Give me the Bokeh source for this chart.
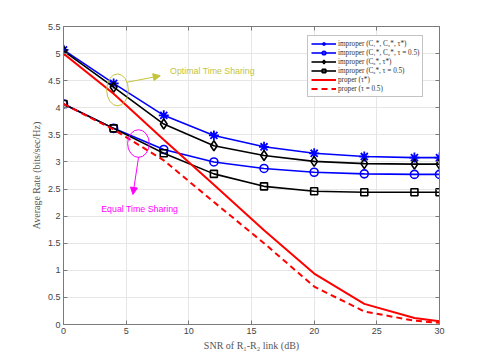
from bokeh.plotting import figure
from bokeh.models import (Range1d, FixedTicker, NumeralTickFormatter, LinearAxis,
                          Arrow, NormalHead, Legend, CustomJSTickFormatter)
from bokeh.core.properties import value
from bokeh.embed import file_html
from bokeh.resources import INLINE

# ---- data ----
snr = [0, 4, 8, 12, 16, 20, 24, 28, 30]
imp_c1c2_opt = [5.07, 4.45, 3.86, 3.49, 3.28, 3.16, 3.10, 3.08, 3.08]
imp_c1c2_half = [4.07, 3.62, 3.23, 3.00, 2.88, 2.81, 2.78, 2.77, 2.77]
imp_cx_opt = [5.05, 4.38, 3.70, 3.30, 3.12, 3.01, 2.97, 2.96, 2.96]
imp_cx_half = [4.07, 3.62, 3.16, 2.78, 2.55, 2.46, 2.44, 2.44, 2.44]
proper_opt = [5.00, 4.26, 3.41, 2.58, 1.74, 0.94, 0.38, 0.12, 0.06]
proper_half = [4.07, 3.60, 3.03, 2.26, 1.50, 0.70, 0.24, 0.07, 0.03]

x_ticks = [0, 5, 10, 15, 20, 25, 30]
y_ticks = [0, 0.5, 1, 1.5, 2, 2.5, 3, 3.5, 4, 4.5, 5, 5.5]

labels = ["improper (C\u2081*, C\u2082*, \u03c4*)",
          "improper (C\u2081*, C\u2082*, \u03c4 = 0.5)",
          "improper (C\u2093*, \u03c4*)",
          "improper (C\u2093*, \u03c4 = 0.5)",
          "proper (\u03c4*)",
          "proper (\u03c4 = 0.5)"]

AX = "#7a7a7a"
p = figure(frame_width=376, frame_height=298, output_backend="svg", toolbar_location=None,
           x_range=Range1d(0, 30), y_range=Range1d(0, 5.5),
           min_border_left=63, min_border_top=26, min_border_right=38, min_border_bottom=31,
           background_fill_color="white", border_fill_color="white")
p.outline_line_color = AX
p.outline_line_width = 1

for ax in (p.xaxis[0], p.yaxis[0]):
    ax.axis_line_color = AX
    ax.major_tick_line_color = AX
    ax.minor_tick_line_color = None
    ax.major_tick_in = 4
    ax.major_tick_out = 0
    ax.major_label_text_font = "Liberation Sans"
    ax.major_label_text_font_size = "9px"
    ax.major_label_text_color = "#444444"
    ax.axis_label_text_font = "Liberation Serif"
    ax.axis_label_text_font_style = "normal"
    ax.axis_label_text_font_size = "10px"
    ax.axis_label_text_color = "#555555"

p.xaxis[0].ticker = FixedTicker(ticks=x_ticks)
p.yaxis[0].ticker = FixedTicker(ticks=y_ticks)
p.yaxis[0].formatter = NumeralTickFormatter(format="0.[0]")
p.xaxis[0].formatter = NumeralTickFormatter(format="0")
p.xaxis[0].major_label_standoff = 3
p.yaxis[0].major_label_standoff = 3
p.xaxis[0].axis_label = "SNR of R\u2081-R\u2082 link (dB)"
p.yaxis[0].axis_label = "Average Rate (bits/sec/Hz)"
p.xaxis[0].axis_label_standoff = 3
p.yaxis[0].axis_label_standoff = 3

# box axes (right and top) with inward ticks, no labels
blank = CustomJSTickFormatter(code="return ''")
ra = LinearAxis(ticker=FixedTicker(ticks=y_ticks), formatter=blank,
                axis_line_color=AX, major_tick_line_color=AX, minor_tick_line_color=None,
                major_tick_in=4, major_tick_out=0)
ta = LinearAxis(ticker=FixedTicker(ticks=x_ticks), formatter=blank,
                axis_line_color=AX, major_tick_line_color=AX, minor_tick_line_color=None,
                major_tick_in=4, major_tick_out=0)
p.add_layout(ra, "right")
p.add_layout(ta, "above")

p.xgrid.ticker = FixedTicker(ticks=x_ticks)
p.ygrid.ticker = FixedTicker(ticks=y_ticks)
p.grid.grid_line_color = "#e6e6e6"
p.grid.grid_line_width = 1

items = []
r1 = p.line(snr, imp_c1c2_opt, line_color="blue", line_width=1.6)
m1 = p.scatter(snr, imp_c1c2_opt, marker="asterisk", size=10, line_color="blue", line_width=1.8)
items.append((labels[0], [r1, m1]))
r2 = p.line(snr, imp_c1c2_half, line_color="blue", line_width=1.6)
m2 = p.scatter(snr, imp_c1c2_half, marker="circle", size=8, line_color="blue", fill_color=None, line_width=1.6)
items.append((labels[1], [r2, m2]))
r3 = p.line(snr, imp_cx_opt, line_color="black", line_width=1.6)
m3 = p.scatter(snr, imp_cx_opt, marker="diamond", size=10, line_color="black", fill_color=None, line_width=1.6)
items.append((labels[2], [r3, m3]))
r4 = p.line(snr, imp_cx_half, line_color="black", line_width=1.6)
m4 = p.scatter(snr, imp_cx_half, marker="square", size=7, line_color="black", fill_color=None, line_width=1.6)
items.append((labels[3], [r4, m4]))
r5 = p.line(snr, proper_opt, line_color="red", line_width=2)
items.append((labels[4], [r5]))
r6 = p.line(snr, proper_half, line_color="red", line_width=2, line_dash="6 4")
items.append((labels[5], [r6]))

legend = Legend(items=items, location=(244, 227), orientation="vertical",
                label_text_font="Liberation Serif", label_text_font_size="7.2px",
                label_text_color="#333333", label_height=9, label_standoff=2,
                glyph_width=25, glyph_height=9, spacing=0, padding=3, margin=0,
                border_line_color="#888888", border_line_width=1,
                background_fill_color="white", background_fill_alpha=1)
p.add_layout(legend)

# annotations
OLIVE = "#c4c43a"
MAG = "#ff00ff"
p.ellipse(x=[4.31], y=[4.33], width=[1.73], height=[0.59], fill_color=None,
          line_color=OLIVE, line_width=1)
p.add_layout(Arrow(end=NormalHead(size=7, fill_color=OLIVE, line_color=OLIVE),
                   x_start=5.06, y_start=4.47, x_end=7.72, y_end=4.59,
                   line_color=OLIVE, line_width=1))
p.text(x=[8.5], y=[4.67], text=["Optimal Time Sharing"], text_color=OLIVE,
       text_font=value("Liberation Sans"), text_font_size="8.8px",
       text_baseline="middle", text_align="left")

p.ellipse(x=[5.98], y=[3.34], width=[1.73], height=[0.51], fill_color=None,
          line_color=MAG, line_width=1)
p.add_layout(Arrow(end=NormalHead(size=7, fill_color=MAG, line_color=MAG),
                   x_start=5.99, y_start=3.09, x_end=5.54, y_end=2.40,
                   line_color=MAG, line_width=1))
p.text(x=[6.08], y=[2.14], text=["Equal Time Sharing"], text_color=MAG,
       text_font=value("Liberation Sans"), text_font_size="8.8px",
       text_baseline="middle", text_align="center")

open("out.html", "w").write(file_html(p, INLINE))
